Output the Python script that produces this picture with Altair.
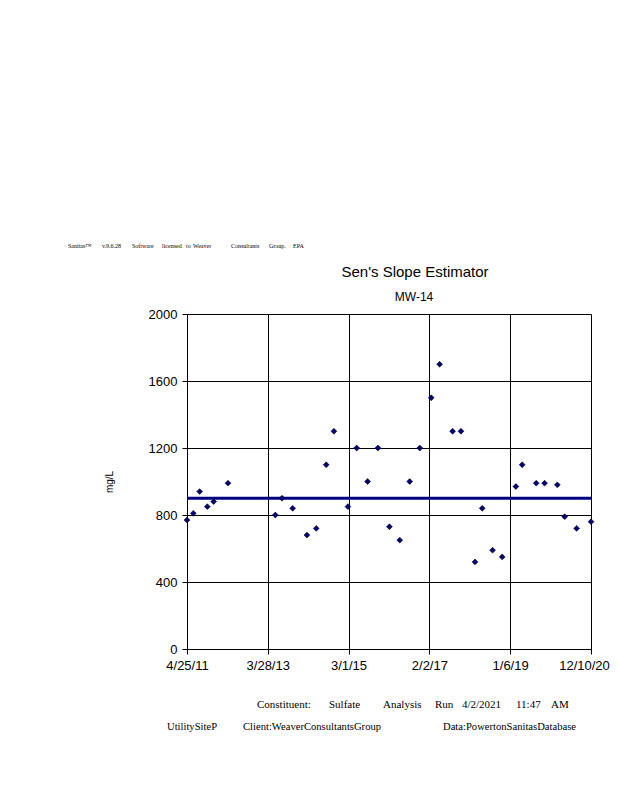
import altair as alt
import pandas as pd

# Sampled sulfate concentrations (mg/L)
dates = [
    "2011-04-25", "2011-06-19", "2011-08-13", "2011-10-19", "2011-12-13", "2012-04-16",
    "2013-06-02", "2013-07-30", "2013-10-31", "2014-03-04", "2014-05-24", "2014-08-19",
    "2014-10-25", "2015-02-24", "2015-05-11", "2015-08-14", "2015-11-12", "2016-02-20",
    "2016-05-20", "2016-08-15", "2016-11-10", "2017-02-18", "2017-05-02", "2017-08-23",
    "2017-11-04", "2018-03-06", "2018-05-08", "2018-08-06", "2018-10-29", "2019-02-25",
    "2019-04-21", "2019-08-21", "2019-11-02", "2020-02-21", "2020-04-25", "2020-08-07",
    "2020-12-10",
]
values = [
    770, 810, 940, 850, 880, 990,
    800, 900, 840, 680, 720, 1100,
    1300, 850, 1200, 1000, 1200, 730,
    650, 1000, 1200, 1500, 1700, 1300,
    1300, 520, 840, 590, 550, 970,
    1100, 990, 990, 980, 790, 720,
    760,
]
slope_dates = ["2011-04-25", "2020-12-10"]
slope_values = [900, 900]
y_ticks = [0, 400, 800, 1200, 1600, 2000]
x_ticks = [(2011, 4, 25), (2013, 3, 28), (2015, 3, 1), (2017, 2, 2), (2019, 1, 6), (2020, 12, 10)]

df = pd.DataFrame({"date": [d + "T00:00:00" for d in dates], "value": values})
slope_df = pd.DataFrame({"date": [d + "T00:00:00" for d in slope_dates], "value": slope_values})

W, H = 404, 335
tick_dt = [alt.DateTime(year=y, month=m, date=d) for (y, m, d) in x_ticks]

x_enc = alt.X(
    "date:T",
    scale=alt.Scale(domain=[tick_dt[0], tick_dt[-1]], nice=False),
    axis=alt.Axis(
        values=tick_dt, format="%-m/%-d/%y", title=None, grid=True,
        gridColor="black", gridOpacity=1, gridWidth=1,
        domainColor="black", tickColor="black", tickSize=5,
        labelFont="Liberation Sans", labelFontSize=13, labelColor="black",
        labelPadding=5, labelFlush=False, labelOverlap=False,
        labelOffset={"condition": {"test": "datum.value > 1590000000000", "value": -7}, "value": 0},
    ),
)
y_enc = alt.Y(
    "value:Q",
    scale=alt.Scale(domain=[0, 2000], nice=False),
    axis=alt.Axis(
        values=y_ticks, format="d", title=None, grid=True,
        gridColor="black", gridOpacity=1, gridWidth=1,
        domainColor="black", tickColor="black", tickSize=5,
        labelFont="Liberation Sans", labelFontSize=13, labelColor="black",
        labelPadding=5,
    ),
)

points = alt.Chart(df).mark_point(
    shape="diamond", filled=True, size=34, fill="#000080",
    stroke="black", strokeWidth=0.6, opacity=1,
).encode(x=x_enc, y=y_enc)

slope = alt.Chart(slope_df).mark_line(color="#000080", strokeWidth=3).encode(
    x="date:T", y="value:Q"
)


def label(text, x, y, size, font="Liberation Sans", align="left", angle=0):
    return alt.Chart(alt.Data(values=[{"t": text}])).mark_text(
        font=font, fontSize=size, align=align, baseline="middle",
        color="black", angle=angle,
    ).encode(text="t:N", x=alt.value(x), y=alt.value(y))


ox, oy = 187, 314  # plot origin on the page
texts = []
for word, px in [("Sanitas™", 68), ("v.9.6.28", 102), ("Software", 132), ("licensed", 162),
                 ("to", 186), ("Weaver", 193), ("Consultants", 231), ("Group.", 269), ("EPA", 293)]:
    texts.append(label(word, px - ox, 246 - oy, 6, font="Liberation Serif"))
texts.append(label("Sen's Slope Estimator", 415 - ox, 272 - oy, 15, align="center"))
texts.append(label("MW-14", 414 - ox, 297 - oy, 12, align="center"))
texts.append(label("mg/L", 110 - ox, 482 - oy, 10, align="center", angle=270))
for word, px in [("Constituent:", 257), ("Sulfate", 329), ("Analysis", 383), ("Run", 435),
                 ("4/2/2021", 462), ("11:47", 516), ("AM", 551)]:
    texts.append(label(word, px - ox, 705 - oy, 11, font="Liberation Serif"))
for word, px in [("UtilitySiteP", 167), ("Client:WeaverConsultantsGroup", 243),
                 ("Data:PowertonSanitasDatabase", 443)]:
    texts.append(label(word, px - ox, 727 - oy, 10.6, font="Liberation Serif"))

chart = alt.layer(slope, points, *texts).properties(
    width=W, height=H,
    autosize=alt.AutoSizeParams(type="none"),
    padding={"left": ox - 8, "top": oy - 8, "right": 19, "bottom": 100},
).configure_view(stroke="black", strokeWidth=1).configure(background="white")

chart.save("out.html", embed_options={"renderer": "svg", "actions": False})
